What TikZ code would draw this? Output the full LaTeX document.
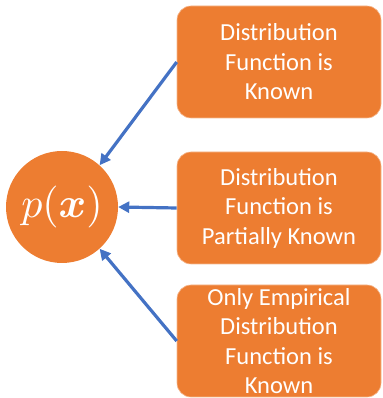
\documentclass[tikz,border=0pt]{standalone}
\usepackage{amsmath}
\usepackage{graphicx}
\usepackage{fontspec}
\setmainfont{Carlito}
\usetikzlibrary{arrows.meta}
\definecolor{org}{HTML}{ED7D31}
\definecolor{blu}{HTML}{4472C4}
\begin{document}
\begin{tikzpicture}[x=1pt,y=1pt,
 box/.style={fill=org, draw=org!55!white, line width=0.6pt, rounded corners=14pt, minimum width=204pt, minimum height=112pt, text=white, align=center, font=\fontsize{24.5}{29.5}\selectfont, inner sep=0pt},
 conn/.style={draw=blu, line width=3.2pt, -{Triangle[length=11pt,width=11pt]}}]
\useasboundingbox (0,0) rectangle (382,398);
\node[circle, fill=org, minimum size=112pt, inner sep=0pt, text=white] (p) at (62,191) {\scalebox{4.2}{$p(\boldsymbol{x})$}};
\node[box] (b1) at (279,336) {Distribution\\Function is\\Known};
\node[box] (b2) at (279,190) {Distribution\\Function is\\Partially Known};
\node[box] (b3) at (279,57) {Only Empirical\\Distribution\\Function is\\Known};
\draw[conn] (b1.west) -- (p.48);
\draw[conn] (b2.west) -- (p.east);
\draw[conn] (b3.west) -- (p.-48);
\end{tikzpicture}
\end{document}
